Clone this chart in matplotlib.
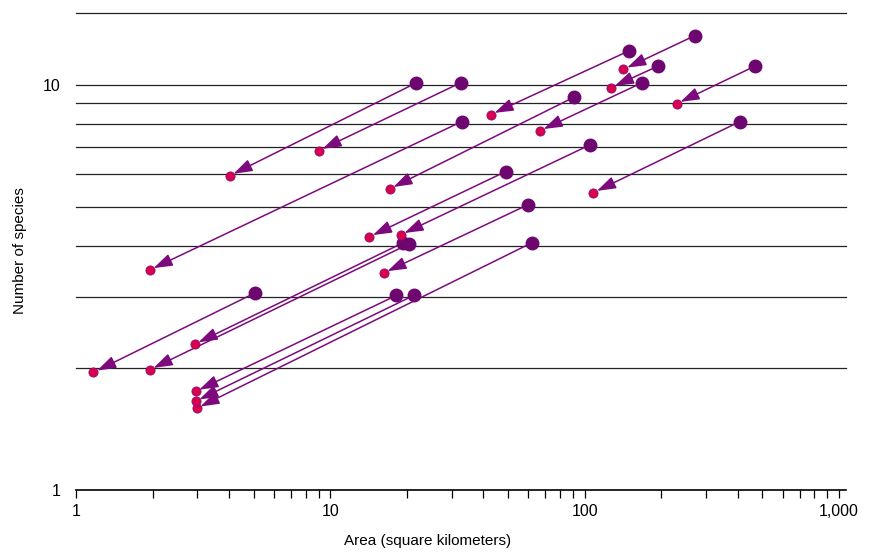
import matplotlib.pyplot as plt

plt.rcParams['font.family'] = ['Liberation Sans Narrow', 'Liberation Sans', 'DejaVu Sans']

# start (purple) and end (crimson) of every arrow: area in km2, number of species
start_area = [21.8, 32.5, 32.8, 149, 271, 194, 467, 90.6, 168, 407,
              105, 48.9, 59.7, 61.9, 5.04, 19.3, 20.3, 18.2, 21.3]
start_species = [10.1, 10.1, 8.1, 12.1, 13.2, 11.1, 11.1, 9.3, 10.1, 8.1,
                 7.1, 6.1, 5.05, 4.07, 3.06, 4.07, 4.04, 3.02, 3.02]
end_area = [4.02, 9.0, 1.95, 42.7, 142, 127, 230, 17.1, 66.6, 108,
            18.9, 14.2, 16.2, 2.98, 1.17, 2.93, 1.95, 2.95, 2.95]
end_species = [5.96, 6.87, 3.49, 8.43, 10.9, 9.83, 8.97, 5.53, 7.69, 5.41,
               4.26, 4.21, 3.43, 1.59, 1.95, 2.29, 1.98, 1.75, 1.655]

grid_levels = [2, 3, 4, 5, 6, 7, 8, 9, 10, 15]
x_ticks = [1, 10, 100, 1000]
x_tick_labels = ['1', '10', '100', '1,000']
y_ticks = [1, 10]
y_tick_labels = ['1', '10']

fig = plt.figure(figsize=(8.74, 5.52), dpi=100)
ax = fig.add_axes([0.087, 0.1123, 0.881, 0.866])

ax.set_xscale('log')
ax.set_yscale('log')
ax.set_xlim(1, 1066)
ax.set_ylim(1, 15.1)

for lev in grid_levels:
    ax.axhline(lev, color='#222222', lw=0.9, zorder=1, clip_on=False)

for xa, ya, xb, yb in zip(start_area, start_species, end_area, end_species):
    ax.annotate('', xy=(xb, yb), xytext=(xa, ya),
                arrowprops=dict(arrowstyle='-|>,head_length=1.15,head_width=0.38',
                                color='#7d0a7d', lw=1.1, shrinkA=0, shrinkB=3,
                                mutation_scale=10),
                zorder=2)

ax.plot(start_area, start_species, 'o', ms=9, color='#6e0670', zorder=3)
ax.plot(end_area, end_species, 'o', ms=6.6, markerfacecolor='#d8004f',
        markeredgecolor='#8a1070', markeredgewidth=0.6, zorder=3)

for s in ['top', 'right', 'left']:
    ax.spines[s].set_visible(False)
ax.spines['bottom'].set_linewidth(1.2)

ax.set_xticks(x_ticks)
ax.set_xticklabels(x_tick_labels)
ax.set_yticks(y_ticks)
ax.set_yticklabels(y_tick_labels)
ax.yaxis.set_minor_locator(plt.NullLocator())
ax.tick_params(axis='x', which='both', direction='out', length=6, width=0.9,
               labelsize=11.5, pad=4)
ax.tick_params(axis='y', which='both', length=0, labelsize=11.5, pad=11)

ax.set_xlabel('Area (square kilometers)', fontsize=11)
ax.set_ylabel('Number of species', fontsize=11)
ax.xaxis.set_label_coords(0.456, -0.093)
ax.yaxis.set_label_coords(-0.064, 0.5)

fig.savefig('out.png', dpi=100)
